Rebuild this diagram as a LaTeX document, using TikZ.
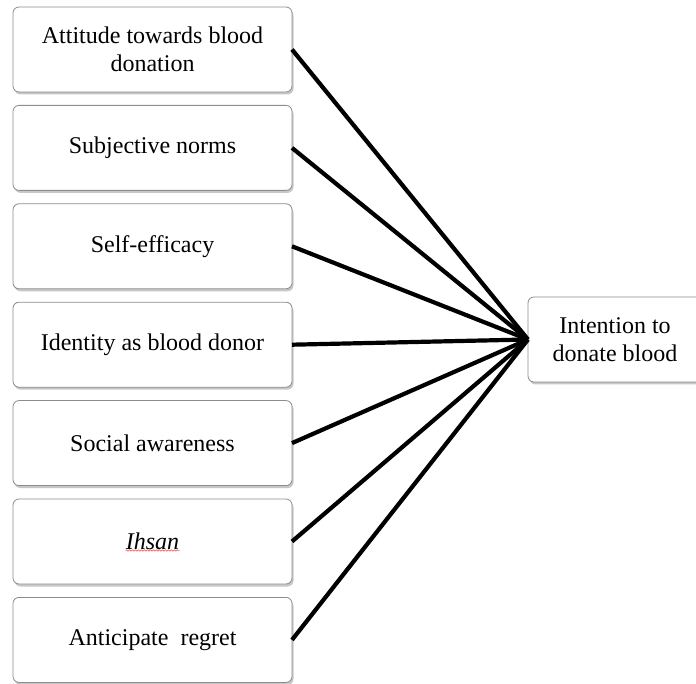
\documentclass[tikz,border=0pt]{standalone}
\usepackage{fontspec}
\setmainfont{Liberation Serif}
\usetikzlibrary{positioning,shadows,decorations.pathmorphing}

\begin{document}
\begin{tikzpicture}[x=1pt,y=1pt,
    node distance=13.4pt,
    factor/.style={draw=black!45, line width=0.8pt, fill=white, rounded corners=6pt,
      minimum width=279pt, minimum height=85pt, outer sep=0pt, align=center,
      font=\fontsize{24}{27.5}\selectfont,
      drop shadow={shadow xshift=1.5pt, shadow yshift=-2.5pt, opacity=0.22, fill=black}},
    link/.style={line width=4.2pt},
    spellmark/.style={red!75, line width=0.5pt, decorate,
      decoration={snake, amplitude=0.7pt, segment length=3pt}}]
  \useasboundingbox (0,0) rectangle (696,683);

  \node[factor] (f1) at (152.5,633.5) {Attitude towards blood\\donation};
  \node[factor, below=of f1] (f2) {Subjective norms};
  \node[factor, below=of f2] (f3) {Self-efficacy};
  \node[factor, below=of f3] (f4) {Identity as blood donor};
  \node[factor, below=of f4] (f5) {Social awareness};
  \node[factor, below=of f5] (f6) {\textit{Ihsan}};
  \node[factor, below=of f6] (f7) {Anticipate~ regret};

  \node[factor, minimum width=174pt, anchor=west] (intent) at (528,343.5) {Intention to\\donate blood};

  \foreach \i in {1,...,7}
    \draw[link] (f\i.east) -- (intent.west);

  \draw[spellmark] ([xshift=-27pt,yshift=-9pt]f6.center) -- ([xshift=27pt,yshift=-9pt]f6.center);
\end{tikzpicture}
\end{document}
